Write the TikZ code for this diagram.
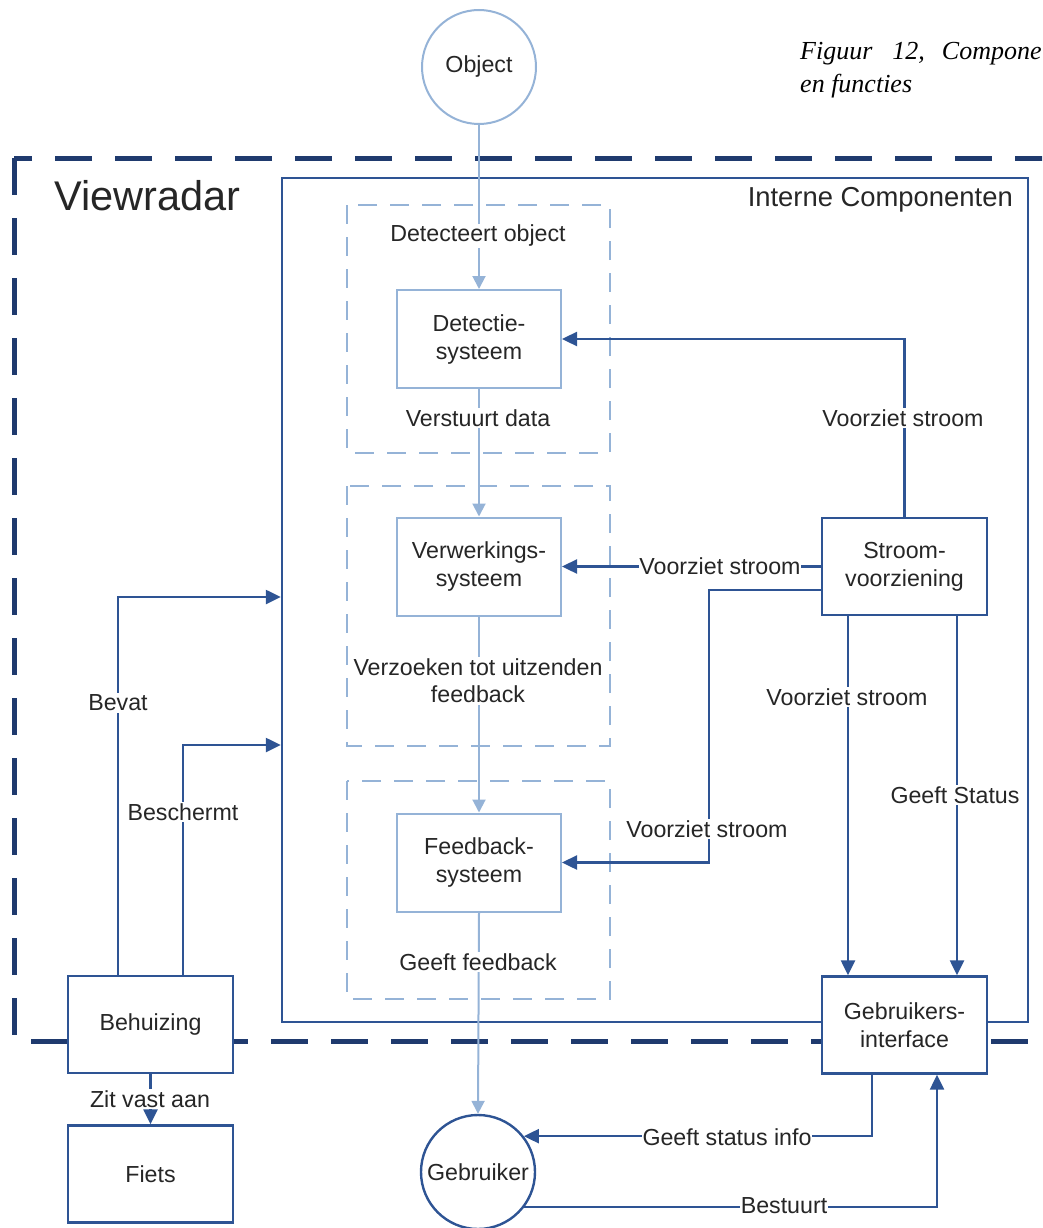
\documentclass[tikz,border=0pt]{standalone}
\usepackage{fontspec}
\setmainfont{Liberation Sans}
\newfontfamily\capfont{Liberation Serif}
\usetikzlibrary{arrows.meta,shapes.geometric}
\definecolor{navy}{HTML}{1F3A6E}
\definecolor{midblue}{HTML}{2E5494}
\definecolor{lightblue}{HTML}{95B3D7}
\definecolor{txt}{HTML}{262626}
\begin{document}
\begin{tikzpicture}[x=1pt,y=-1pt,
  lbl/.style={font=\fontsize{23.2}{27}\selectfont, text=txt, fill=white, inner sep=1.5pt, align=center},
  lbox/.style={draw=lightblue, line width=2pt, fill=white, minimum width=164pt, minimum height=98pt,
    align=center, font=\fontsize{23.2}{28}\selectfont, text=txt, inner sep=0pt},
  dbox/.style={draw=midblue, line width=2.4pt, fill=white, minimum width=165pt, minimum height=97pt,
    align=center, font=\fontsize{23.2}{28}\selectfont, text=txt, inner sep=0pt},
  narr/.style={draw=midblue, line width=2.4pt, -{Triangle[length=15pt,width=14pt]}},
  larr/.style={draw=lightblue, line width=2pt, -{Triangle[length=13pt,width=13pt]}},
  lightdash/.style={draw=lightblue, line width=2pt, dash pattern=on 19pt off 13pt},
  captext/.style={anchor=base west, font=\capfont\itshape\fontsize{26}{30}\selectfont, text=black, inner sep=0pt},
]
\useasboundingbox (0,0) rectangle (1042,1228);
\clip (0,0) rectangle (1042,1228);

% caption
\node[captext] (cap1) at (800,60) {Figuur\hspace{20pt}12,\hspace{17pt}Compone};
\node[captext] (cap2) at (800,93) {en functies};

% outer dashed Viewradar boundary
\draw[navy, line width=5pt, dash pattern=on 37pt off 23pt] (14,158) rectangle (1090,1041);
\node[font=\fontsize{41.5}{46}\selectfont, text=txt, anchor=west, inner sep=0pt] (vr) at (54,196) {Viewradar};

% internal components container
\node[draw=midblue, line width=2.4pt, minimum width=746pt, minimum height=844pt, inner sep=0pt] (intern) at (655,600) {};
\node[font=\fontsize{27.4}{32}\selectfont, text=txt, anchor=east, inner sep=0pt] (internlbl) at (1013,200) {Interne Componenten};

% light dashed function groups
\draw[lightdash] (347,205) rectangle (610,453);
\draw[lightdash] (347,486) rectangle (610,746);
\draw[lightdash] (347,781) rectangle (610,999);

% nodes
\node[draw=lightblue, line width=2pt, circle, minimum size=114pt, inner sep=0pt, fill=white,
  font=\fontsize{23.2}{26}\selectfont, text=txt] (obj) at (479,67) {Object};
\node[lbox] (det) at (479,339) {Detectie-\\systeem};
\node[lbox] (verw) at (479,566.5) {Verwerkings-\\systeem};
\node[lbox] (feed) at (479,862.5) {Feedback-\\systeem};
\node[dbox] (str) at (904.5,566.5) {Stroom-\\voorziening};
\node[dbox] (gui) at (904.5,1025) {Gebruikers-\\interface};
\node[dbox] (beh) at (150.5,1024.5) {Behuizing};
\node[dbox] (fiets) at (150.5,1174) {Fiets};
\node[draw=midblue, line width=2.4pt, circle, minimum size=114pt, inner sep=0pt, fill=white,
  font=\fontsize{23.2}{26}\selectfont, text=txt] (geb) at (478,1172) {Gebruiker};

% helper coordinates
\coordinate (k1) at (709,590);
\coordinate (x1) at (848,0);
\coordinate (x2) at (957,0);
\coordinate (x3) at (872,0);
\coordinate (x4) at (937,0);
\coordinate (bx1) at (118,597);
\coordinate (bx2) at (183,745);

% light connectors (main flow)
\draw[larr] (obj.south) -- (det.north);
\draw[larr] (det.south) -- (verw.north);
\draw[larr] (verw.south) -- (feed.north);
\draw[larr] (feed.south) -- (geb.north);

% power / status connectors
\draw[narr] (str.north) |- (det.east);
\draw[narr] (str.west) -- (verw.east);
\draw[narr] (str.west |- k1) -- (k1) |- (feed.east);
\draw[narr] (str.south -| x1) -- (gui.north -| x1);
\draw[narr] (str.south -| x2) -- (gui.north -| x2);
\draw[narr] (gui.south -| x3) |- (geb.38);
\draw[narr] (geb.-37) -| (gui.south -| x4);
\draw[narr] (beh.north -| bx1) |- (intern.west |- bx1);
\draw[narr] (beh.north -| bx2) |- (intern.west |- bx2);
\draw[narr] (beh.south) -- (fiets.north);

% connector labels
\node[lbl] (l1) at (478,236) {Detecteert object};
\node[lbl] (l2) at (478,418) {Verstuurt data};
\node[lbl] (l3) at (478,681) {Verzoeken tot uitzenden\\feedback};
\node[lbl] (l4) at (478,962) {Geeft feedback};
\node[lbl] (l5) at (903,418) {Voorziet stroom};
\node[lbl, inner xsep=0.5pt] (l6) at (720,566) {Voorziet stroom};
\node[lbl] (l7) at (707,829) {Voorziet stroom};
\node[lbl] (l8) at (847,697) {Voorziet stroom};
\node[lbl] (l9) at (955,795) {Geeft Status};
\node[lbl] (l10) at (118,703) {Bevat};
\node[lbl] (l11) at (183,812) {Beschermt};
\node[lbl] (l12) at (150,1099) {Zit vast aan};
\node[lbl, inner xsep=0.5pt] (l13) at (727,1137) {Geeft status info};
\node[lbl, inner xsep=0.5pt] (l14) at (784,1206) {Bestuurt};
\end{tikzpicture}
\end{document}
